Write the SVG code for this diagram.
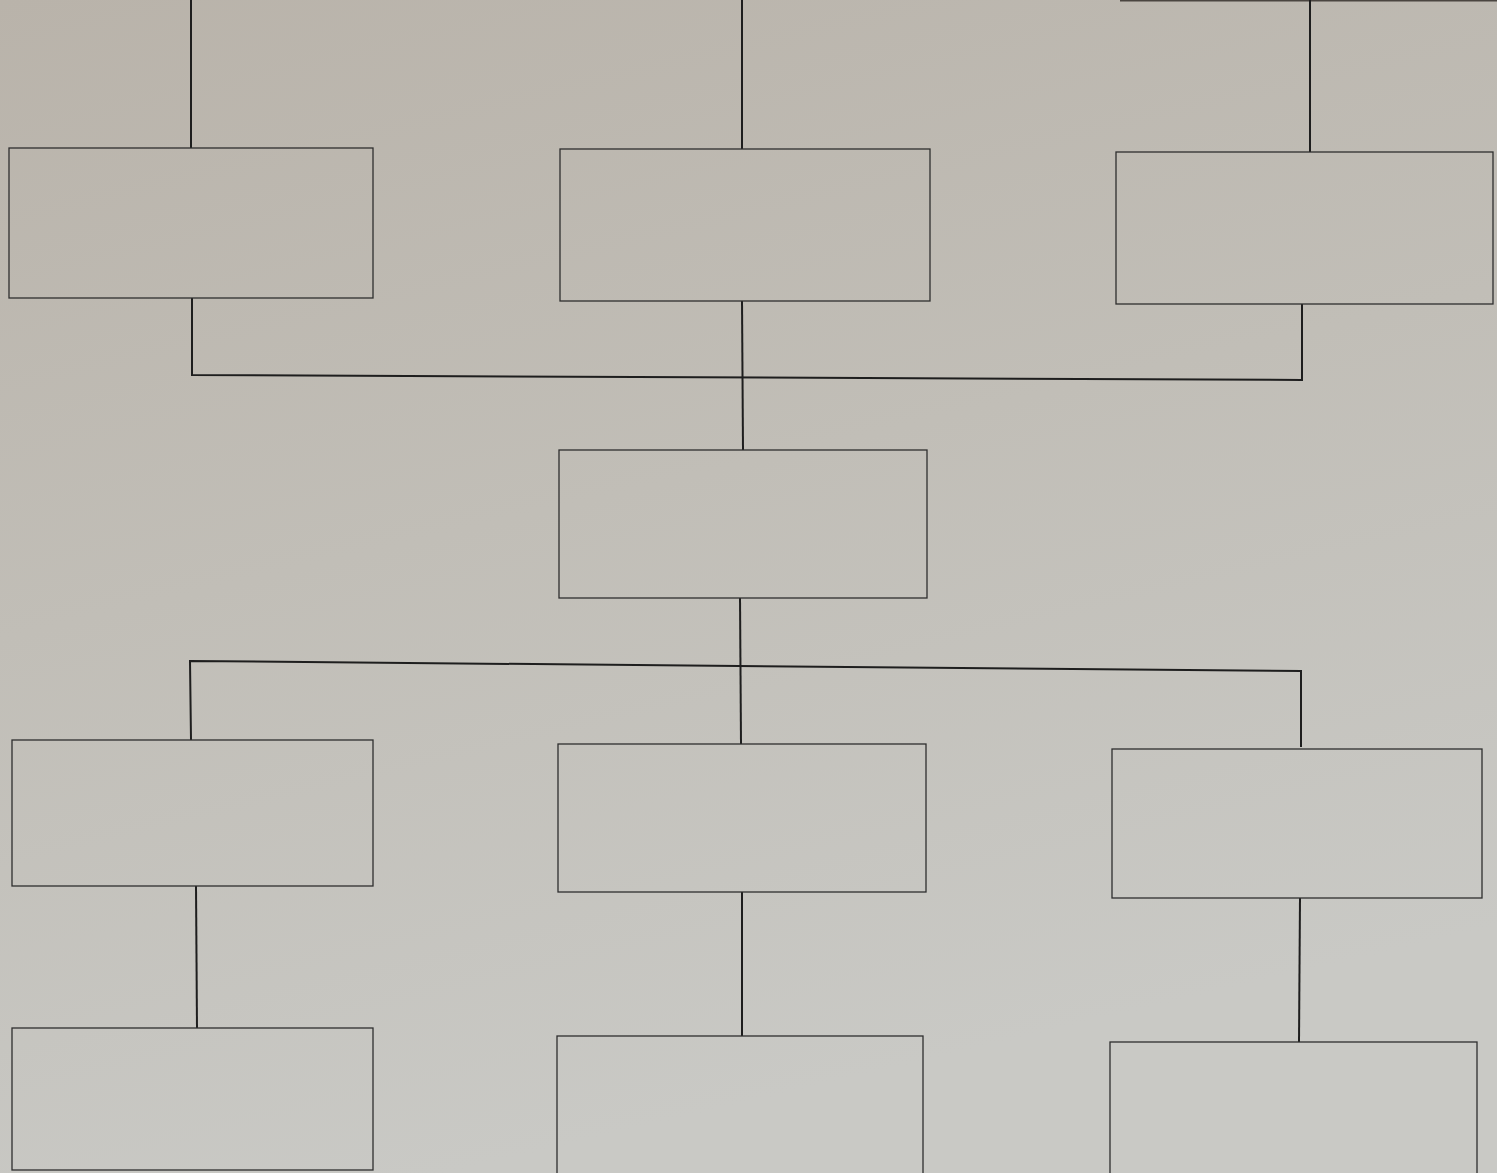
<svg xmlns="http://www.w3.org/2000/svg" width="1497" height="1173" viewBox="0 0 1497 1173">
<defs>
<linearGradient id="bg" x1="0" y1="0" x2="0.3" y2="1">
<stop offset="0" stop-color="#b9b3aa"/>
<stop offset="0.5" stop-color="#c1beb7"/>
<stop offset="1" stop-color="#c9c9c5"/>
</linearGradient>
<style>
.box{fill:none;stroke:#2e2e2e;stroke-width:1.3}
.con{fill:none;stroke:#1e1e1e;stroke-width:2}
.edge{fill:none;stroke:#4a4540;stroke-width:1.5}
</style>
</defs>
<rect x="0" y="0" width="1497" height="1173" fill="url(#bg)"/>
<g id="top-edges">
<line class="edge" x1="1120" y1="0.8" x2="1497" y2="0.8"/>
</g>
<g id="connectors">
<line class="con" x1="191" y1="0" x2="191" y2="148"/>
<line class="con" x1="742" y1="0" x2="742" y2="149"/>
<line class="con" x1="1310" y1="0" x2="1310" y2="152"/>
<polyline class="con" points="192,298 192,375 1302,380 1302,304"/>
<line class="con" x1="742" y1="301" x2="743" y2="450"/>
<line class="con" x1="740" y1="598" x2="741" y2="744"/>
<polyline class="con" points="191,740 190,661 1301,671 1301,747"/>
<line class="con" x1="196" y1="886" x2="197" y2="1028"/>
<line class="con" x1="742" y1="892" x2="742" y2="1036"/>
<line class="con" x1="1300" y1="898" x2="1299" y2="1042"/>
</g>
<g id="n1"><rect class="box" x="9" y="148" width="364" height="150"/></g>
<g id="n2"><rect class="box" x="560" y="149" width="370" height="152"/></g>
<g id="n3"><rect class="box" x="1116" y="152" width="377" height="152"/></g>
<g id="n4"><rect class="box" x="559" y="450" width="368" height="148"/></g>
<g id="n5"><rect class="box" x="12" y="740" width="361" height="146"/></g>
<g id="n6"><rect class="box" x="558" y="744" width="368" height="148"/></g>
<g id="n7"><rect class="box" x="1112" y="749" width="370" height="149"/></g>
<g id="n8"><rect class="box" x="12" y="1028" width="361" height="142"/></g>
<g id="n9"><rect class="box" x="557" y="1036" width="366" height="145"/></g>
<g id="n10"><rect class="box" x="1110" y="1042" width="367" height="140"/></g>
</svg>
